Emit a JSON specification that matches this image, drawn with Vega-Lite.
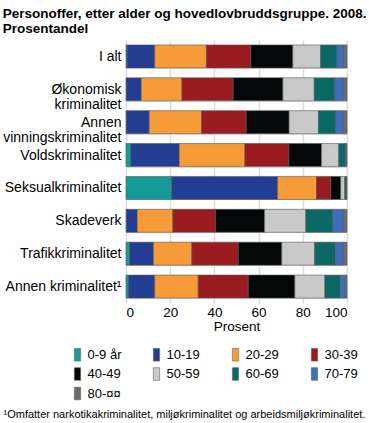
{
  "$schema": "https://vega.github.io/schema/vega-lite/v6.json",
  "padding": {"left": 2, "right": 2, "top": 6, "bottom": 2},
  "config": {"font": "Liberation Sans", "view": {"stroke": null}},
  "title": {"text": ["Personoffer, etter alder og hovedlovbruddsgruppe. 2008.", "Prosentandel"], "anchor": "start", "frame": "bounds", "fontSize": 13.5, "fontWeight": "bold", "color": "#000", "lineHeight": 15, "offset": -2},
  "width": 221, "height": 263,
  "data": {"values": [
    {"gruppe": "I alt", "alder": "0-9 år", "andel": 0.5},
    {"gruppe": "I alt", "alder": "10-19", "andel": 12.5},
    {"gruppe": "I alt", "alder": "20-29", "andel": 23.4},
    {"gruppe": "I alt", "alder": "30-39", "andel": 20.1},
    {"gruppe": "I alt", "alder": "40-49", "andel": 19.0},
    {"gruppe": "I alt", "alder": "50-59", "andel": 12.6},
    {"gruppe": "I alt", "alder": "60-69", "andel": 7.3},
    {"gruppe": "I alt", "alder": "70-79", "andel": 3.0},
    {"gruppe": "I alt", "alder": "80-¤¤", "andel": 1.6},
    {"gruppe": "Økonomisk kriminalitet", "alder": "0-9 år", "andel": 0.2},
    {"gruppe": "Økonomisk kriminalitet", "alder": "10-19", "andel": 6.7},
    {"gruppe": "Økonomisk kriminalitet", "alder": "20-29", "andel": 18.4},
    {"gruppe": "Økonomisk kriminalitet", "alder": "30-39", "andel": 23.2},
    {"gruppe": "Økonomisk kriminalitet", "alder": "40-49", "andel": 22.5},
    {"gruppe": "Økonomisk kriminalitet", "alder": "50-59", "andel": 14.2},
    {"gruppe": "Økonomisk kriminalitet", "alder": "60-69", "andel": 9.3},
    {"gruppe": "Økonomisk kriminalitet", "alder": "70-79", "andel": 3.8},
    {"gruppe": "Økonomisk kriminalitet", "alder": "80-¤¤", "andel": 1.7},
    {"gruppe": "Annen vinningskriminalitet", "alder": "0-9 år", "andel": 0.2},
    {"gruppe": "Annen vinningskriminalitet", "alder": "10-19", "andel": 10.3},
    {"gruppe": "Annen vinningskriminalitet", "alder": "20-29", "andel": 23.7},
    {"gruppe": "Annen vinningskriminalitet", "alder": "30-39", "andel": 20.2},
    {"gruppe": "Annen vinningskriminalitet", "alder": "40-49", "andel": 19.4},
    {"gruppe": "Annen vinningskriminalitet", "alder": "50-59", "andel": 13.3},
    {"gruppe": "Annen vinningskriminalitet", "alder": "60-69", "andel": 7.8},
    {"gruppe": "Annen vinningskriminalitet", "alder": "70-79", "andel": 3.4},
    {"gruppe": "Annen vinningskriminalitet", "alder": "80-¤¤", "andel": 1.7},
    {"gruppe": "Voldskriminalitet", "alder": "0-9 år", "andel": 2.2},
    {"gruppe": "Voldskriminalitet", "alder": "10-19", "andel": 21.9},
    {"gruppe": "Voldskriminalitet", "alder": "20-29", "andel": 29.7},
    {"gruppe": "Voldskriminalitet", "alder": "30-39", "andel": 19.9},
    {"gruppe": "Voldskriminalitet", "alder": "40-49", "andel": 14.8},
    {"gruppe": "Voldskriminalitet", "alder": "50-59", "andel": 7.8},
    {"gruppe": "Voldskriminalitet", "alder": "60-69", "andel": 2.9},
    {"gruppe": "Voldskriminalitet", "alder": "70-79", "andel": 0.5},
    {"gruppe": "Voldskriminalitet", "alder": "80-¤¤", "andel": 0.3},
    {"gruppe": "Seksualkriminalitet", "alder": "0-9 år", "andel": 20.7},
    {"gruppe": "Seksualkriminalitet", "alder": "10-19", "andel": 47.9},
    {"gruppe": "Seksualkriminalitet", "alder": "20-29", "andel": 17.6},
    {"gruppe": "Seksualkriminalitet", "alder": "30-39", "andel": 6.5},
    {"gruppe": "Seksualkriminalitet", "alder": "40-49", "andel": 4.5},
    {"gruppe": "Seksualkriminalitet", "alder": "50-59", "andel": 1.8},
    {"gruppe": "Seksualkriminalitet", "alder": "60-69", "andel": 0.6},
    {"gruppe": "Seksualkriminalitet", "alder": "70-79", "andel": 0.2},
    {"gruppe": "Seksualkriminalitet", "alder": "80-¤¤", "andel": 0.2},
    {"gruppe": "Skadeverk", "alder": "0-9 år", "andel": 0.3},
    {"gruppe": "Skadeverk", "alder": "10-19", "andel": 4.8},
    {"gruppe": "Skadeverk", "alder": "20-29", "andel": 16.1},
    {"gruppe": "Skadeverk", "alder": "30-39", "andel": 19.3},
    {"gruppe": "Skadeverk", "alder": "40-49", "andel": 22.2},
    {"gruppe": "Skadeverk", "alder": "50-59", "andel": 18.7},
    {"gruppe": "Skadeverk", "alder": "60-69", "andel": 12.2},
    {"gruppe": "Skadeverk", "alder": "70-79", "andel": 4.7},
    {"gruppe": "Skadeverk", "alder": "80-¤¤", "andel": 1.7},
    {"gruppe": "Trafikkriminalitet", "alder": "0-9 år", "andel": 1.7},
    {"gruppe": "Trafikkriminalitet", "alder": "10-19", "andel": 10.7},
    {"gruppe": "Trafikkriminalitet", "alder": "20-29", "andel": 17.4},
    {"gruppe": "Trafikkriminalitet", "alder": "30-39", "andel": 21.0},
    {"gruppe": "Trafikkriminalitet", "alder": "40-49", "andel": 19.7},
    {"gruppe": "Trafikkriminalitet", "alder": "50-59", "andel": 14.9},
    {"gruppe": "Trafikkriminalitet", "alder": "60-69", "andel": 9.3},
    {"gruppe": "Trafikkriminalitet", "alder": "70-79", "andel": 3.6},
    {"gruppe": "Trafikkriminalitet", "alder": "80-¤¤", "andel": 1.7},
    {"gruppe": "Annen kriminalitet¹", "alder": "0-9 år", "andel": 1.1},
    {"gruppe": "Annen kriminalitet¹", "alder": "10-19", "andel": 11.9},
    {"gruppe": "Annen kriminalitet¹", "alder": "20-29", "andel": 19.7},
    {"gruppe": "Annen kriminalitet¹", "alder": "30-39", "andel": 22.6},
    {"gruppe": "Annen kriminalitet¹", "alder": "40-49", "andel": 21.1},
    {"gruppe": "Annen kriminalitet¹", "alder": "50-59", "andel": 13.6},
    {"gruppe": "Annen kriminalitet¹", "alder": "60-69", "andel": 6.9},
    {"gruppe": "Annen kriminalitet¹", "alder": "70-79", "andel": 2.3},
    {"gruppe": "Annen kriminalitet¹", "alder": "80-¤¤", "andel": 0.8}
  ]},
  "mark": {"type": "bar", "stroke": "#555", "strokeWidth": 0.6},
  "encoding": {
    "y": {
      "field": "gruppe", "type": "nominal",
      "sort": ["I alt", "Økonomisk kriminalitet", "Annen vinningskriminalitet", "Voldskriminalitet", "Seksualkriminalitet", "Skadeverk", "Trafikkriminalitet", "Annen kriminalitet¹"],
      "scale": {"paddingInner": 0.3, "paddingOuter": 0.15},
      "axis": {
        "domain": false, "ticks": false, "grid": true, "tickBand": "extent",
        "gridColor": "#dcdcdc", "gridWidth": 1,
        "labelFontSize": 14, "labelColor": "#000", "labelPadding": 5, "labelLimit": 200, "labelLineHeight": 15,
        "labelExpr": "datum.value == 'Økonomisk kriminalitet' ? ['Økonomisk', 'kriminalitet'] : datum.value == 'Annen vinningskriminalitet' ? ['Annen', 'vinningskriminalitet'] : datum.value",
        "title": "¹Omfatter narkotikakriminalitet, miljøkriminalitet og arbeidsmiljøkriminalitet.",
        "titleAngle": 0, "titleX": -123, "titleY": 374, "titleAlign": "left", "titleBaseline": "middle",
        "titleFontSize": 11, "titleFontWeight": "normal", "titleColor": "#000"
      }
    },
    "x": {
      "field": "andel", "type": "quantitative",
      "scale": {"domain": [0, 100], "nice": false},
      "axis": {
        "values": [0, 20, 40, 60, 80, 100], "title": "Prosent", "domain": false, "ticks": false, "grid": true,
        "gridColor": "#dcdcdc", "gridWidth": 1.5,
        "labelFontSize": 13.5, "labelColor": "#000", "labelPadding": 2,
        "titleFontSize": 13.5, "titleFontWeight": "normal", "titleColor": "#000", "titlePadding": 1
      }
    },
    "color": {
      "field": "alder", "type": "nominal",
      "scale": {
        "domain": ["0-9 år", "10-19", "20-29", "30-39", "40-49", "50-59", "60-69", "70-79", "80-¤¤"],
        "range": ["#169c98", "#223d91", "#f79a38", "#9b1c20", "#050808", "#c9c9c9", "#0b6965", "#3e6fbf", "#6b6c6e"]
      },
      "legend": {
        "title": null, "orient": "none", "legendX": -55.5, "legendY": 307.5,
        "columns": 4, "direction": "horizontal", "gridAlign": "all", "columnPadding": 28, "rowPadding": 3.5,
        "symbolType": "M-0.5,-1H0.5V1H-0.5Z", "symbolSize": 160, "symbolStrokeColor": "#666", "symbolStrokeWidth": 0.6, "symbolOpacity": 1,
        "labelFontSize": 13, "labelColor": "#000", "labelOffset": 3
      }
    }
  }
}
